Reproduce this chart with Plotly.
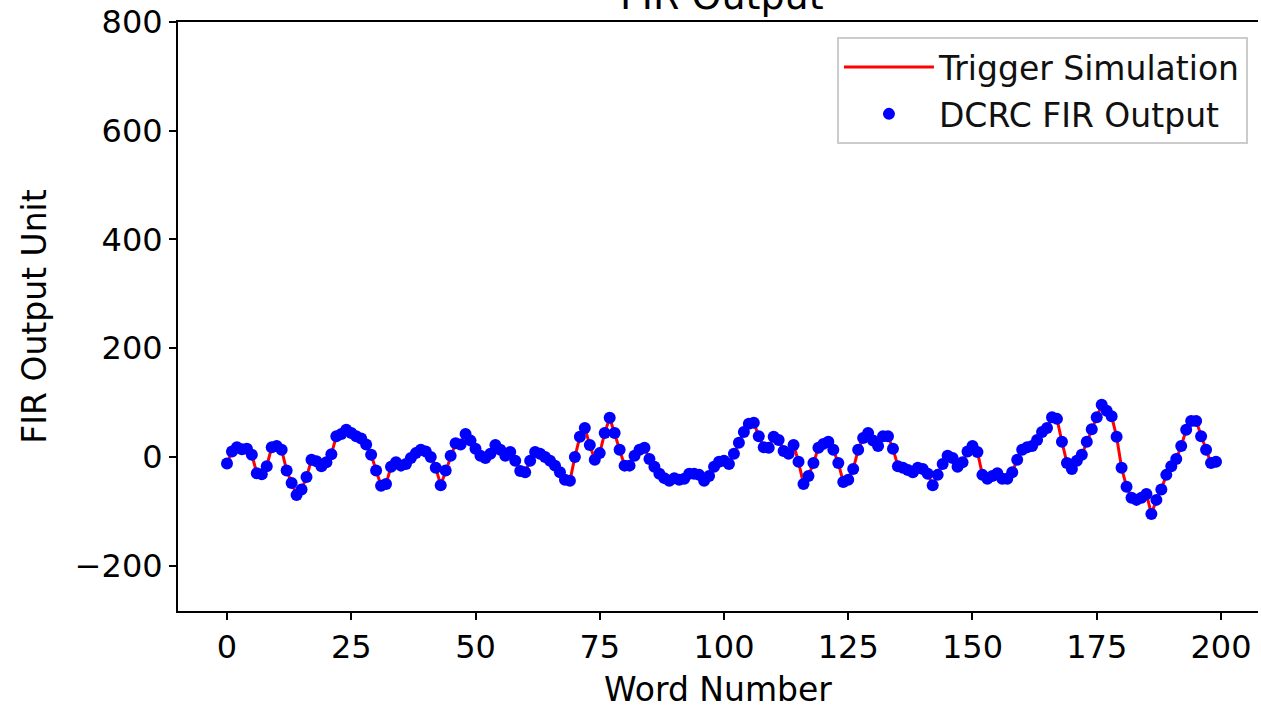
import plotly.graph_objects as go

word_number = list(range(200))
fir_output = [
    -12, 10, 18, 14, 15, 4, -30, -32, -17, 18,
    20, 13, -25, -48, -70, -60, -37, -5, -8, -17,
    -10, 5, 38, 42, 50, 44, 38, 34, 23, 4,
    -25, -53, -50, -18, -10, -16, -13, -2, 7, 13,
    10, 0, -20, -52, -25, 2, 25, 23, 42, 30,
    15, 2, -2, 6, 22, 13, 2, 9, -7, -26,
    -28, -7, 9, 6, 0, -7, -16, -28, -42, -44,
    0, 37, 53, 22, -5, 7, 44, 72, 44, 13,
    -16, -16, 2, 13, 17, -4, -18, -31, -39, -44,
    -39, -42, -40, -31, -31, -33, -44, -35, -18, -9,
    -7, -13, 6, 26, 46, 61, 63, 38, 18, 17,
    37, 31, 11, 6, 22, -9, -50, -35, -11, 17,
    24, 28, 13, -11, -46, -42, -22, 13, 35, 44,
    30, 20, 38, 38, 15, -17, -20, -24, -28, -20,
    -22, -31, -52, -33, -13, 2, -2, -18, -10, 10,
    20, 9, -33, -40, -35, -30, -40, -40, -28, -5,
    13, 18, 20, 31, 46, 53, 73, 70, 28, -11,
    -22, -7, 4, 28, 51, 73, 96, 85, 75, 37,
    -20, -55, -75, -79, -75, -68, -105, -79, -60, -33,
    -17, -4, 20, 50, 66, 66, 38, 13, -11, -9,
]

x_ticks = [0, 25, 50, 75, 100, 125, 150, 175, 200]
y_ticks = [-200, 0, 200, 400, 600, 800]

FONT = "DejaVu Sans"
TFS = 32
LFS = 33

fig = go.Figure()
fig.add_trace(go.Scatter(
    x=word_number, y=fir_output, mode="lines", name="Trigger Simulation",
    line=dict(color="red", width=3), legendgroup="a",
))
fig.add_trace(go.Scatter(
    x=word_number, y=fir_output, mode="markers", name="DCRC FIR Output",
    marker=dict(color="blue", size=12, line=dict(width=0)), legendgroup="b",
))

fig.update_layout(
    width=1261, height=709,
    margin=dict(l=178, r=3, t=22, b=98),
    paper_bgcolor="white", plot_bgcolor="white",
    font=dict(family=FONT, size=TFS, color="black"),
    showlegend=True,
    legend=dict(
        x=0.9907, y=0.9745, xanchor="right", yanchor="top",
        bordercolor="#cccccc", borderwidth=2, bgcolor="white",
        font=dict(family=FONT, size=LFS, color="#111111"),
        itemwidth=90, traceorder="grouped", tracegroupgap=1,
    ),
    xaxis=dict(
        range=[-9.86, 207.45], tickmode="array", tickvals=x_ticks,
        showgrid=False, zeroline=False, showline=True, linecolor="black",
        linewidth=2, mirror=True, ticks="outside", ticklen=7, tickwidth=2,
        tickcolor="black", tickfont=dict(size=TFS),
        title=dict(text="Word Number", font=dict(size=LFS), standoff=12),
    ),
    yaxis=dict(
        range=[-283.4, 800], tickmode="array", tickvals=y_ticks,
        showgrid=False, zeroline=False, showline=True, linecolor="black",
        linewidth=2, ticks="outside", ticklen=7, tickwidth=2,
        tickcolor="black", tickfont=dict(size=TFS),
        title=dict(text="FIR Output Unit", font=dict(size=LFS), standoff=18),
    ),
    annotations=[dict(
        text="FIR Output", xref="paper", yref="paper", x=0.5035, y=1,
        xanchor="center", yanchor="bottom", yshift=2, showarrow=False,
        font=dict(family=FONT, size=38, color="black"),
    )],
)

fig.write_html("out.html")
